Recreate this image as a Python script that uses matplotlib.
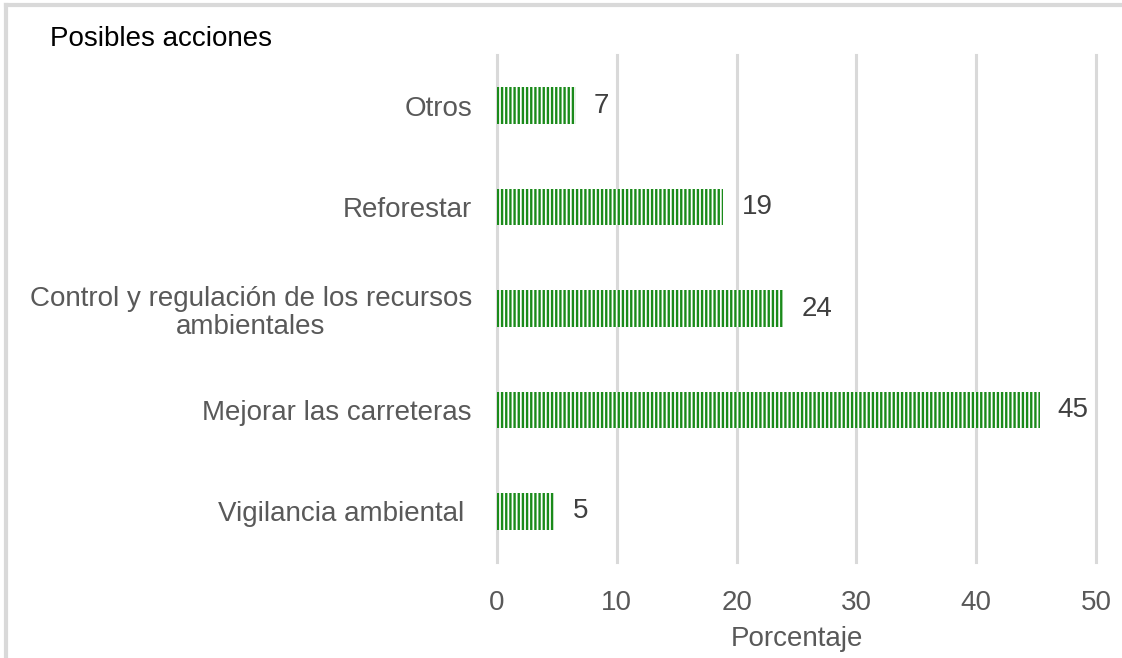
"""Posibles acciones: horizontal bar chart with vertical hatching."""

import matplotlib
matplotlib.use('Agg')
import matplotlib.pyplot as plt
from matplotlib.lines import Line2D

categories = ['Vigilancia ambiental ', 'Mejorar las carreteras',
              'Control y regulación de los recursos\nambientales',
              'Reforestar', 'Otros']
values = [4.8, 45.3, 23.9, 18.9, 6.6]
xticks = [0, 10, 20, 30, 40, 50]

plt.rcParams['font.family'] = ['Liberation Sans', 'DejaVu Sans']
plt.rcParams['hatch.linewidth'] = 1.7

green = '#1a8a1a'
grey_text = '#595959'

fig = plt.figure(figsize=(11.22, 6.58), dpi=100)
ax = fig.add_axes([497 / 1122, 1 - 562 / 658, (1096 - 497) / 1122, (562 - 55) / 658])

ypos = list(range(len(categories)))
ax.barh(ypos, values, height=0.36, color='white', edgecolor=green,
        hatch='||||', linewidth=0, zorder=3)

for y, v in zip(ypos, values):
    ax.text(v + 1.5, y, f'{v:.0f}', va='center', ha='left', fontsize=20,
            color='#404040')

ax.set_yticks(ypos)
ax.set_yticklabels(categories, fontsize=20, color=grey_text,
                   multialignment='center', linespacing=1.15)
ax.set_xlim(0, 50)
ax.set_ylim(-0.5, 4.5)
ax.set_xticks(xticks)
ax.set_xticklabels([str(t) for t in xticks], fontsize=20, color=grey_text)
ax.tick_params(axis='both', length=0)
ax.tick_params(axis='y', pad=18)
ax.tick_params(axis='x', pad=20)
ax.set_xlabel('Porcentaje', fontsize=20, color=grey_text, labelpad=7)
ax.grid(True, axis='x', color='#d9d9d9', linewidth=2.2, zorder=0)
for gl in ax.get_xgridlines():
    gl.set_clip_on(False)
for s in ax.spines.values():
    s.set_visible(False)

fig.text(50 / 1122, 1 - 39 / 658, 'Posibles acciones', fontsize=20,
         color='black', va='center', ha='left')

# light frame (top and left edges visible)
fig.add_artist(Line2D([6 / 1122, 1], [1 - 5 / 658, 1 - 5 / 658],
                      transform=fig.transFigure, color='#d9d9d9', linewidth=3))
fig.add_artist(Line2D([6 / 1122, 6 / 1122], [0, 1 - 5 / 658],
                      transform=fig.transFigure, color='#d9d9d9', linewidth=3))

plt.savefig('out.png', dpi=100)
